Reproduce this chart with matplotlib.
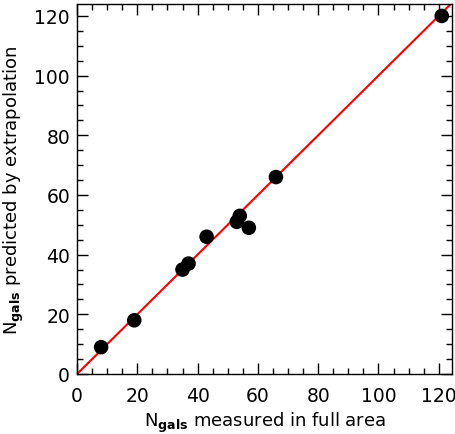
import matplotlib
matplotlib.use("Agg")
import matplotlib.pyplot as plt
from matplotlib.ticker import MultipleLocator

measured = [8, 19, 35, 37, 43, 53, 54, 57, 66, 121]
predicted = [9, 18, 35, 37, 46, 51, 53, 49, 66, 120]
line_vals = [0, 125]

fig = plt.figure(figsize=(4.55, 4.35), dpi=100)
ax = fig.add_axes([77/455, 60/435, 375/455, 370/435])
ax.plot(line_vals, line_vals, color='#ff0000', lw=1.5, zorder=2)
ax.scatter(measured, predicted, s=110, color='black', zorder=3, edgecolors='none')
ax.set_xlim(0, 124.4)
ax.set_ylim(0, 124)
ax.xaxis.set_major_locator(MultipleLocator(20))
ax.yaxis.set_major_locator(MultipleLocator(20))
ax.xaxis.set_minor_locator(MultipleLocator(5))
ax.yaxis.set_minor_locator(MultipleLocator(5))
ax.tick_params(which='both', direction='in', top=True, right=True, labelsize=13.5, width=1)
ax.tick_params(which='major', length=8)
ax.tick_params(which='minor', length=4)
ax.tick_params(axis='x', pad=9)
ax.tick_params(axis='y', pad=5)
for s in ax.spines.values():
    s.set_linewidth(1)
ax.set_xlabel(r'N$_{\mathbf{gals}}$ measured in full area', fontsize=13, labelpad=3)
ax.set_ylabel(r'N$_{\mathbf{gals}}$ predicted by extrapolation', fontsize=13, labelpad=6)
fig.savefig('out.png', dpi=100)
